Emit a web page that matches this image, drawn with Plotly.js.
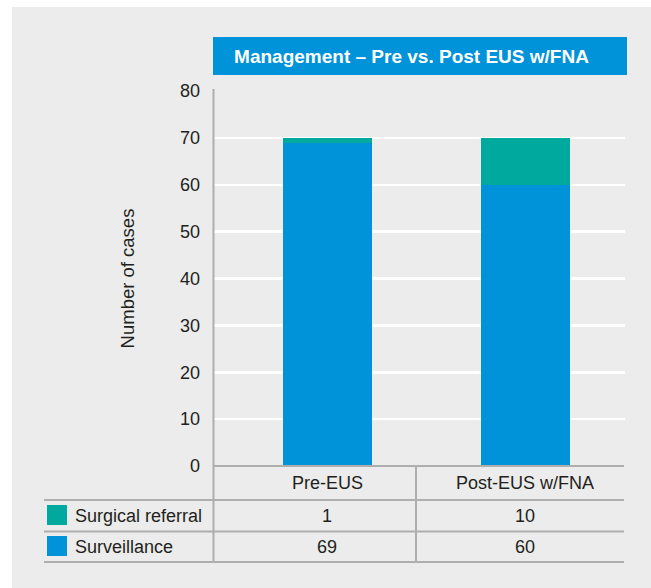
<!DOCTYPE html>
<html>
<head>
<meta charset="utf-8">
<script src="https://cdn.plot.ly/plotly-3.0.1.min.js"></script>
<style>html,body{margin:0;padding:0;background:#ebeceb;overflow:hidden;}#chart{width:651px;height:588px;}</style>
</head>
<body>
<div id="chart"></div>
<script>
var categories = ["Pre-EUS", "Post-EUS w/FNA"];
var seriesNames = ["Surgical referral", "Surveillance"];
var surgicalReferral = [1, 10];
var surveillance = [69, 60];
var yTicks = [0, 10, 20, 30, 40, 50, 60, 70, 80];
var chartTitle = "Management – Pre vs. Post EUS w/FNA";
var yTitle = "Number of cases";

var BLUE = "#0093d9", TEAL = "#00a99d", BG = "#ebeceb", LINE = "#aeaeae";
var FONT = "Liberation Sans, Arial, sans-serif";

// pixel -> paper helpers (plot area: x 213..625, y 91..466)
var L = 213, R = 625, T = 91, B = 466;
function px(x) { return (x - L) / (R - L); }
function py(y) { return 1 - (y - T) / (B - T); }

var traces = [
  {type: "bar", name: seriesNames[1], x: categories, y: surveillance,
   marker: {color: BLUE}, width: 0.4495, hoverinfo: "x+y+name"},
  {type: "bar", name: seriesNames[0], x: categories, y: surgicalReferral,
   marker: {color: TEAL}, width: 0.4495, hoverinfo: "x+y+name"}
];

var shapes = [
  // white outer margins
  {type: "rect", xref: "paper", yref: "paper", x0: px(0), x1: px(651), y0: py(0), y1: py(7), fillcolor: "#fff", line: {width: 0}, layer: "below"},
  {type: "rect", xref: "paper", yref: "paper", x0: px(0), x1: px(12), y0: py(0), y1: py(588), fillcolor: "#fff", line: {width: 0}, layer: "below"},
  // title box
  {type: "rect", xref: "paper", yref: "paper", x0: px(213), x1: px(627), y0: py(75), y1: py(37), fillcolor: BLUE, line: {width: 0}},
  // y axis line extended through table
  {type: "line", xref: "paper", yref: "paper", x0: px(213.5), x1: px(213.5), y0: py(89), y1: py(563), line: {color: LINE, width: 2}},
  // table column divider
  {type: "line", xref: "paper", yref: "paper", x0: px(416), x1: px(416), y0: py(466), y1: py(563), line: {color: LINE, width: 2}},
  // table row lines
  {type: "line", xref: "paper", yref: "paper", x0: px(44), x1: px(624), y0: py(500), y1: py(500), line: {color: LINE, width: 2}},
  {type: "line", xref: "paper", yref: "paper", x0: px(44), x1: px(624), y0: py(531.5), y1: py(531.5), line: {color: LINE, width: 2}},
  {type: "line", xref: "paper", yref: "paper", x0: px(44), x1: px(624), y0: py(562), y1: py(562), line: {color: LINE, width: 2}},
  // x axis line
  {type: "line", xref: "paper", yref: "paper", x0: px(213), x1: px(624), y0: py(466), y1: py(466), line: {color: LINE, width: 2}},
  // legend swatches
  {type: "rect", xref: "paper", yref: "paper", x0: px(47), x1: px(67), y0: py(525), y1: py(505), fillcolor: TEAL, line: {width: 0}},
  {type: "rect", xref: "paper", yref: "paper", x0: px(47), x1: px(67), y0: py(556), y1: py(536), fillcolor: BLUE, line: {width: 0}}
];

var tfont = {family: FONT, size: 18, color: "#231f20"};
var annotations = [];
categories.forEach(function (c, i) {
  annotations.push({xref: "x", yref: "paper", x: c, y: py(483), text: c, showarrow: false, font: tfont, xanchor: "center", yanchor: "middle"});
  annotations.push({xref: "x", yref: "paper", x: c, y: py(516), text: String(surgicalReferral[i]), showarrow: false, font: tfont, xanchor: "center", yanchor: "middle"});
  annotations.push({xref: "x", yref: "paper", x: c, y: py(547), text: String(surveillance[i]), showarrow: false, font: tfont, xanchor: "center", yanchor: "middle"});
});
annotations.push({xref: "paper", yref: "paper", x: px(73), y: py(516), text: seriesNames[0], showarrow: false, font: tfont, xanchor: "left", yanchor: "middle"});
annotations.push({xref: "paper", yref: "paper", x: px(73), y: py(547), text: seriesNames[1], showarrow: false, font: tfont, xanchor: "left", yanchor: "middle"});

var layout = {
  width: 651, height: 588,
  margin: {l: L, r: 651 - R, t: T, b: 588 - B, pad: 0},
  paper_bgcolor: BG, plot_bgcolor: BG,
  barmode: "stack", bargap: 0,
  showlegend: false,
  title: {text: chartTitle, font: {family: FONT, size: 19, color: "#fff", weight: "bold"},
          xref: "paper", x: px(411.5), xanchor: "center", yref: "container", y: 1 - 56 / 588, yanchor: "middle"},
  xaxis: {type: "category", range: [-0.578, 1.5025], showticklabels: false, showgrid: false, zeroline: false, showline: false, ticks: ""},
  yaxis: {range: [0, 80], tickvals: yTicks, showgrid: true, gridcolor: "#ffffff", gridwidth: 2.5,
          zeroline: false, showline: false, ticks: "", ticklabelstandoff: 12,
          tickfont: {family: FONT, size: 18, color: "#231f20"},
          title: {text: yTitle, font: {family: FONT, size: 18.5, color: "#231f20"}, standoff: 40}},
  shapes: shapes,
  annotations: annotations
};

Plotly.newPlot("chart", traces, layout, {displayModeBar: false, staticPlot: true});
</script>
</body>
</html>
